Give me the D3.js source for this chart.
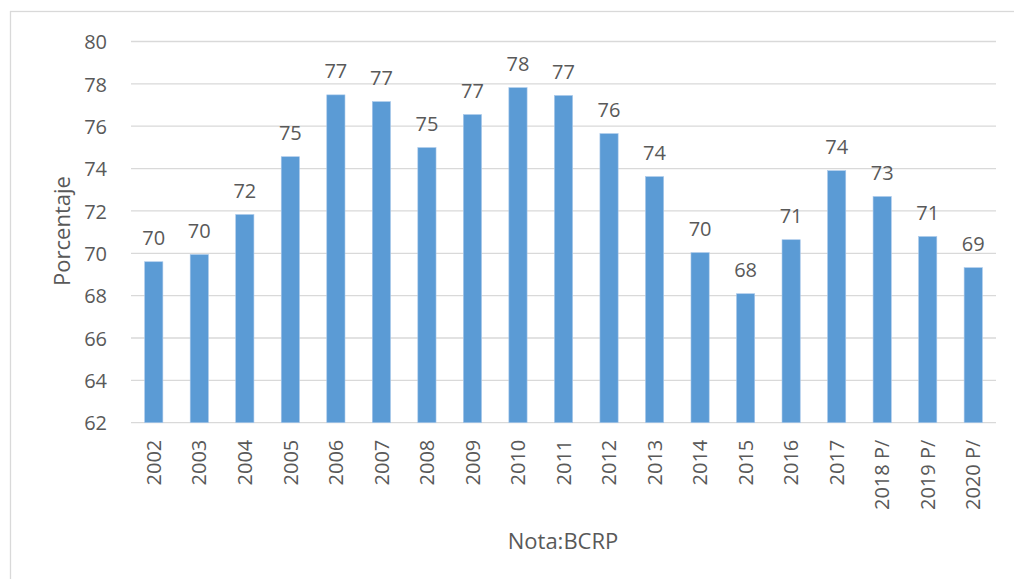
<!DOCTYPE html>
<html>
<head>
<meta charset="utf-8">
<script src="https://cdn.jsdelivr.net/npm/d3@7"></script>
<style>
  body { margin: 0; background: #fff; }
  svg text { font-family: "Open Sans", "DejaVu Sans", sans-serif; fill: #595959; }
</style>
</head>
<body>
<div id="chart"></div>
<script>
// datos
var years = ["2002","2003","2004","2005","2006","2007","2008","2009","2010","2011",
             "2012","2013","2014","2015","2016","2017","2018 P/","2019 P/","2020 P/"];
var values = [69.6, 69.94, 71.83, 74.56, 77.48, 77.16, 74.99, 76.55, 77.82, 77.45,
              75.65, 73.62, 70.03, 68.09, 70.64, 73.9, 72.68, 70.79, 69.32];
var yTicks = [62, 64, 66, 68, 70, 72, 74, 76, 78, 80];

var W = 1014, H = 579;
var mLeft = 131, mRight = 996, mTop = 41.5, mBottom = 422.7;

var svg = d3.select("#chart").append("svg").attr("width", W).attr("height", H);

// marco
svg.append("rect")
  .attr("x", 10.5).attr("y", 11.5)
  .attr("width", W + 10).attr("height", H + 10)
  .attr("fill", "none").attr("stroke", "#d9d9d9").attr("stroke-width", 1.3);

var x = d3.scaleBand().domain(years).range([mLeft, mRight]).paddingInner(0.6).paddingOuter(0.3);
var y = d3.scaleLinear().domain([62, 80]).range([mBottom, mTop]);

// lineas de grilla
svg.append("g").selectAll("line").data(yTicks).enter().append("line")
  .attr("x1", mLeft).attr("x2", mRight)
  .attr("y1", function(d) { return y(d); })
  .attr("y2", function(d) { return y(d); })
  .attr("stroke", "#d9d9d9").attr("stroke-width", 1.3);

// eje y
var yAxis = svg.append("g").attr("transform", "translate(" + (mLeft - 24) + ",0)")
  .call(d3.axisLeft(y).tickValues(yTicks).tickSize(0).tickPadding(0));
yAxis.select(".domain").remove();
yAxis.selectAll("text").attr("font-size", "20px").attr("dy", "0.36em");

// barras
svg.append("g").selectAll("rect").data(values).enter().append("rect")
  .attr("x", function(d, i) { return x(years[i]); })
  .attr("width", x.bandwidth())
  .attr("y", function(d) { return y(d); })
  .attr("height", function(d) { return y(62) - y(d); })
  .attr("fill", "#5b9bd5")
  .attr("stroke", "#a9c8ea").attr("stroke-width", 0.6);

// etiquetas de datos
svg.append("g").selectAll("text").data(values).enter().append("text")
  .attr("x", function(d, i) { return x(years[i]) + x.bandwidth() / 2; })
  .attr("y", function(d) { return y(d) - 17; })
  .attr("text-anchor", "middle")
  .attr("font-size", "20px")
  .text(function(d) { return Math.round(d); });

// eje x
var xAxis = svg.append("g").attr("transform", "translate(0," + mBottom + ")")
  .call(d3.axisBottom(x).tickSize(0).tickPadding(0));
xAxis.select(".domain").remove();
xAxis.selectAll("text")
  .attr("font-size", "20px")
  .attr("text-anchor", "end")
  .attr("transform", "translate(0,17) rotate(-90)")
  .attr("x", 0).attr("y", 0).attr("dy", "0.36em");

// titulos
svg.append("text")
  .attr("transform", "translate(62,231) rotate(-90)")
  .attr("text-anchor", "middle").attr("dy", "0.35em")
  .attr("font-size", "22px")
  .text("Porcentaje");

svg.append("text")
  .attr("x", 563).attr("y", 541)
  .attr("text-anchor", "middle").attr("dy", "0.35em")
  .attr("font-size", "22px")
  .text("Nota:BCRP");
</script>
</body>
</html>
